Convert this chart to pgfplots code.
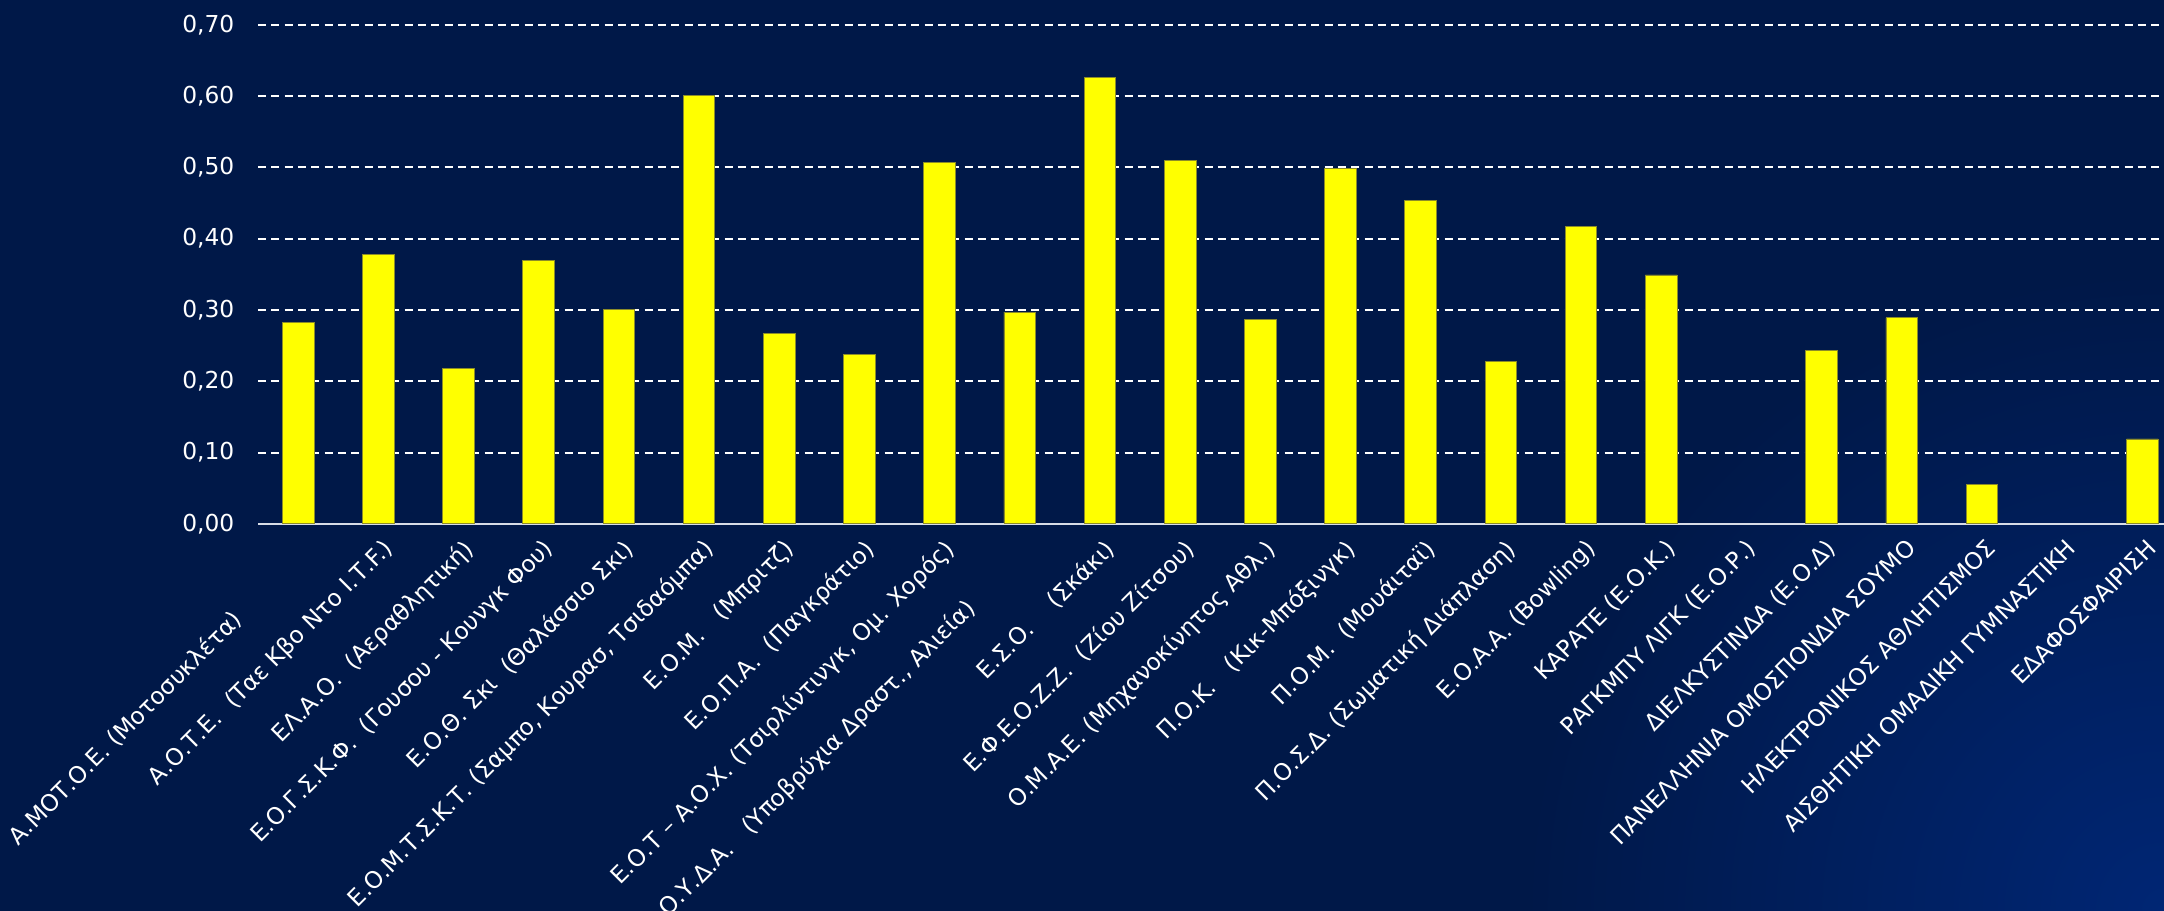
\documentclass[border=0pt]{standalone}
\usepackage{pgfplots}
\pgfplotsset{compat=1.18}
\usepackage{fontspec}
\setmainfont{DejaVu Sans}

\definecolor{bgnavy}{RGB}{0,24,72}
\definecolor{bglight}{RGB}{0,38,116}
\definecolor{baryellow}{RGB}{255,255,0}
\definecolor{baredge}{RGB}{140,140,40}
\definecolor{axisgrey}{RGB}{215,220,230}

\begin{document}
\begin{tikzpicture}
% background
\begin{scope}
\clip (-92.9pt,-139.3pt) rectangle (686.2pt,188.6pt);
\fill[bgnavy] (-92.9pt,-139.3pt) rectangle (686.2pt,188.6pt);
\shade[inner color=bglight, outer color=bgnavy] (686.2pt,-139.3pt) circle (230pt);
\end{scope}
\begin{axis}[
    at={(0,0)}, anchor=south west,
    scale only axis,
    width=686.2pt, height=179.7pt,
    xmin=-0.5, xmax=23.27,
    ymin=0, ymax=0.7,
    ytick={0,0.1,...,0.7},
    xtick={0,...,23},
    axis x line=bottom,
    axis y line=left,
    x axis line style={-, draw=axisgrey, line width=0.7pt},
    y axis line style={draw=none},
    major tick length=0pt,
    ymajorgrids,
    grid style={white, line width=0.7pt, dash pattern=on 2.9pt off 1.9pt},
    font=\fontsize{8.4}{10}\selectfont,
    ticklabel style={white},
    /pgf/number format/fixed,
    /pgf/number format/fixed zerofill,
    /pgf/number format/precision=2,
    /pgf/number format/use comma,
    /pgf/number format/assume math mode=true,
    yticklabel style={xshift=-5pt},
    xticklabel style={rotate=45, anchor=north east, inner sep=1pt, yshift=-3pt, xshift=-1.5pt},
    xticklabels={
      {Α.ΜΟΤ.Ο.Ε. (Μοτοσυκλέτα)\kern4.3em},
      {Α.Ο.Τ.Ε.\ \ (Ταε Κβο Ντο Ι.Τ.F.)},
      {ΕΛ.Α.Ο.\ \ (Αεραθλητική)},
      {Ε.Ο.Γ.Σ.Κ.Φ.\ \ (Γουσου - Κουνγκ Φου)},
      {Ε.Ο.Θ. Σκι\ \ (Θαλάσσιο Σκι)},
      {Ε.Ο.Μ.Τ.Σ.Κ.Τ. (Σαμπο, Κουρασ, Τσιδαόμπα)},
      {Ε.Ο.Μ.\ \ \ (Μπριτζ)},
      {Ε.Ο.Π.Α.\ \ (Παγκράτιο)},
      {Ε.Ο.Τ – Α.Ο.Χ. (Τσιρλίντινγκ, Ομ. Χορός)},
      {Ε.Ο.Υ.Δ.Α.\ \ \ (Υποβρύχια Δραστ., Αλιεία)\kern3.6em},
      {Ε.Σ.Ο.\ \ \ \ (Σκάκι)},
      {Ε.Φ.Ε.Ο.Ζ.Ζ.\ \ (Ζίου Ζίτσου)},
      {Ο.Μ.Α.Ε. (Μηχανοκίνητος Αθλ.)},
      {Π.Ο.Κ.\ \ \ (Κικ-Μπόξινγκ)},
      {Π.Ο.Μ.\ \ (Μουάιταϊ)},
      {Π.Ο.Σ.Δ. (Σωματική Διάπλαση)},
      {Ε.Ο.Α.Α. (Bowling)},
      {ΚΑΡΑΤΕ (Ε.Ο.Κ.)},
      {ΡΑΓΚΜΠΥ ΛΙΓΚ (Ε.Ο.Ρ.)},
      {ΔΙΕΛΚΥΣΤΙΝΔΑ (Ε.Ο.Δ)},
      {ΠΑΝΕΛΛΗΝΙΑ ΟΜΟΣΠΟΝΔΙΑ ΣΟΥΜΟ},
      {ΗΛΕΚΤΡΟΝΙΚΟΣ ΑΘΛΗΤΙΣΜΟΣ},
      {ΑΙΣΘΗΤΙΚΗ ΟΜΑΔΙΚΗ ΓΥΜΝΑΣΤΙΚΗ},
      {ΕΔΑΦΟΣΦΑΙΡΙΣΗ}
    },
    clip=false,
]
\addplot[ybar, bar width=11.4pt, fill=baryellow, draw=baredge, line width=0.3pt] coordinates {
    (0,0.282) (1,0.378) (2,0.218) (3,0.369) (4,0.301) (5,0.601)
    (6,0.267) (7,0.237) (8,0.507) (9,0.297) (10,0.626) (11,0.510)
    (12,0.287) (13,0.498) (14,0.454) (15,0.228) (16,0.417) (17,0.349)
    (19,0.243) (20,0.289) (21,0.055) (23,0.119)
};
\end{axis}
\pgfresetboundingbox
\path[use as bounding box] (-92.9pt,-139.3pt) rectangle (686.2pt,188.6pt);
\end{tikzpicture}
\end{document}
